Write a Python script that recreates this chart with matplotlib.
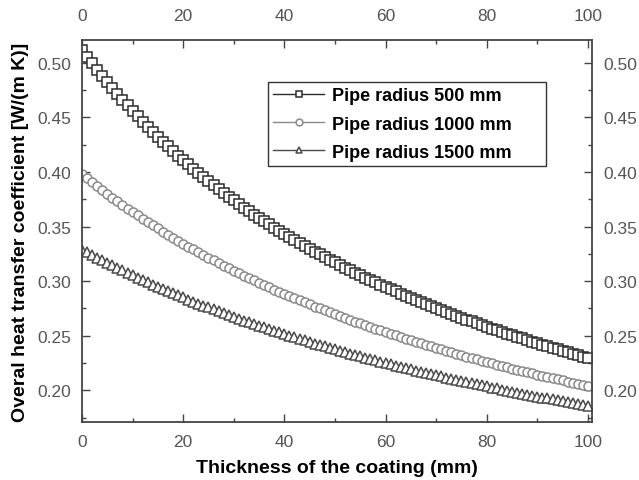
import numpy as np
import matplotlib
matplotlib.use('Agg')
import matplotlib.pyplot as plt
from matplotlib.ticker import MultipleLocator, FormatStrFormatter

plt.rcParams['font.family'] = ['Liberation Sans', 'DejaVu Sans']

# coating thickness (mm), one point per mm
thickness = np.arange(0, 101)

# overall heat transfer coefficient
u_r500 = [0.5120, 0.5058, 0.4998, 0.4938, 0.4880, 0.4824, 0.4769, 0.4715, 0.4662, 0.4610,
          0.4560, 0.4511, 0.4462, 0.4415, 0.4369, 0.4323, 0.4279, 0.4235, 0.4193, 0.4151,
          0.4110, 0.4070, 0.4031, 0.3992, 0.3954, 0.3917, 0.3880, 0.3845, 0.3810, 0.3775,
          0.3741, 0.3708, 0.3675, 0.3643, 0.3611, 0.3580, 0.3550, 0.3520, 0.3490, 0.3461,
          0.3433, 0.3405, 0.3377, 0.3350, 0.3323, 0.3297, 0.3271, 0.3246, 0.3221, 0.3196,
          0.3172, 0.3148, 0.3124, 0.3101, 0.3078, 0.3055, 0.3033, 0.3011, 0.2990, 0.2968,
          0.2947, 0.2927, 0.2906, 0.2886, 0.2866, 0.2847, 0.2827, 0.2808, 0.2789, 0.2771,
          0.2753, 0.2734, 0.2717, 0.2699, 0.2682, 0.2665, 0.2648, 0.2631, 0.2614, 0.2598,
          0.2582, 0.2566, 0.2550, 0.2535, 0.2520, 0.2504, 0.2489, 0.2475, 0.2460, 0.2446,
          0.2431, 0.2417, 0.2403, 0.2389, 0.2376, 0.2362, 0.2349, 0.2336, 0.2323, 0.2310,
          0.2297]
u_r1000 = [0.3979, 0.3942, 0.3905, 0.3869, 0.3833, 0.3799, 0.3764, 0.3731, 0.3698, 0.3666,
           0.3634, 0.3602, 0.3572, 0.3541, 0.3512, 0.3483, 0.3454, 0.3425, 0.3398, 0.3370,
           0.3343, 0.3317, 0.3291, 0.3265, 0.3240, 0.3215, 0.3190, 0.3166, 0.3142, 0.3119,
           0.3096, 0.3073, 0.3051, 0.3029, 0.3007, 0.2986, 0.2964, 0.2944, 0.2923, 0.2903,
           0.2883, 0.2863, 0.2844, 0.2824, 0.2805, 0.2787, 0.2768, 0.2750, 0.2732, 0.2714,
           0.2697, 0.2680, 0.2663, 0.2646, 0.2629, 0.2613, 0.2596, 0.2580, 0.2565, 0.2549,
           0.2534, 0.2518, 0.2503, 0.2488, 0.2474, 0.2459, 0.2445, 0.2431, 0.2417, 0.2403,
           0.2389, 0.2375, 0.2362, 0.2349, 0.2336, 0.2323, 0.2310, 0.2297, 0.2285, 0.2272,
           0.2260, 0.2248, 0.2236, 0.2224, 0.2212, 0.2200, 0.2189, 0.2178, 0.2166, 0.2155,
           0.2144, 0.2133, 0.2122, 0.2112, 0.2101, 0.2091, 0.2080, 0.2070, 0.2060, 0.2050,
           0.2040]
u_r1500 = [0.3289, 0.3264, 0.3240, 0.3215, 0.3191, 0.3168, 0.3144, 0.3121, 0.3099, 0.3076,
           0.3054, 0.3033, 0.3011, 0.2990, 0.2969, 0.2949, 0.2929, 0.2909, 0.2889, 0.2870,
           0.2851, 0.2832, 0.2813, 0.2795, 0.2777, 0.2759, 0.2741, 0.2723, 0.2706, 0.2689,
           0.2672, 0.2656, 0.2639, 0.2623, 0.2607, 0.2591, 0.2576, 0.2560, 0.2545, 0.2530,
           0.2515, 0.2500, 0.2486, 0.2471, 0.2457, 0.2443, 0.2429, 0.2416, 0.2402, 0.2389,
           0.2375, 0.2362, 0.2349, 0.2336, 0.2324, 0.2311, 0.2299, 0.2286, 0.2274, 0.2262,
           0.2250, 0.2238, 0.2227, 0.2215, 0.2204, 0.2193, 0.2181, 0.2170, 0.2159, 0.2148,
           0.2138, 0.2127, 0.2116, 0.2106, 0.2096, 0.2086, 0.2075, 0.2065, 0.2055, 0.2046,
           0.2036, 0.2026, 0.2017, 0.2007, 0.1998, 0.1988, 0.1979, 0.1970, 0.1961, 0.1952,
           0.1943, 0.1934, 0.1926, 0.1917, 0.1909, 0.1900, 0.1892, 0.1883, 0.1875, 0.1867,
           0.1859]

series = [
    ('Pipe radius 500 mm', u_r500, 's', '#2b2b2b'),
    ('Pipe radius 1000 mm', u_r1000, 'o', '#8a8a8a'),
    ('Pipe radius 1500 mm', u_r1500, '^', '#4a4a4a'),
]

fig = plt.figure(figsize=(6.39, 4.81), dpi=100)
ax = fig.add_axes([0.1283, 0.1206, 0.7981, 0.7942])

for label, vals, mk, col in series:
    ax.plot(thickness, vals, color=col, lw=1.0, marker=mk, markersize=6.5,
            markerfacecolor='white', markeredgecolor=col, markeredgewidth=1.1,
            label=label)

ax.set_xlim(0, 100.8)
ax.set_ylim(0.171, 0.521)

ax.xaxis.set_major_locator(MultipleLocator(20))
ax.xaxis.set_minor_locator(MultipleLocator(10))
ax.yaxis.set_major_locator(MultipleLocator(0.05))
ax.yaxis.set_minor_locator(MultipleLocator(0.025))
ax.yaxis.set_major_formatter(FormatStrFormatter('%.2f'))

ax.tick_params(which='both', direction='in', top=True, right=True,
               labeltop=True, labelright=True, color='#444444', width=1.0)
ax.tick_params(which='major', length=6, labelsize=12.5, labelcolor='#555555', pad=8)
ax.tick_params(which='minor', length=3)
ax.tick_params(axis='x', which='major', pad=9)
ax.xaxis.set_tick_params(which='major', labeltop=True)
for t in ax.xaxis.get_major_ticks():
    t.label2.set_y(1.012)

for sp in ax.spines.values():
    sp.set_color('#444444')
    sp.set_linewidth(1.3)

ax.set_xlabel('Thickness of the coating (mm)', fontsize=14, fontweight='bold',
              labelpad=7)
ax.set_ylabel('Overal heat transfer coefficient [W/(m K)]', fontsize=14,
              fontweight='bold', labelpad=6)

# legend box is wider than its text, leaving empty space on the right
leg = ax.legend(loc='upper left', bbox_to_anchor=(0.3647, 0.5, 0.545, 0.39),
                mode='expand', fancybox=False, edgecolor='#333333', framealpha=1,
                markerscale=0.75, prop={'weight': 'bold', 'size': 13},
                handlelength=2.8, borderpad=0.3, labelspacing=0.62,
                handletextpad=0.45, borderaxespad=0)
leg.get_frame().set_linewidth(1.0)

fig.savefig('out.png', dpi=100)
